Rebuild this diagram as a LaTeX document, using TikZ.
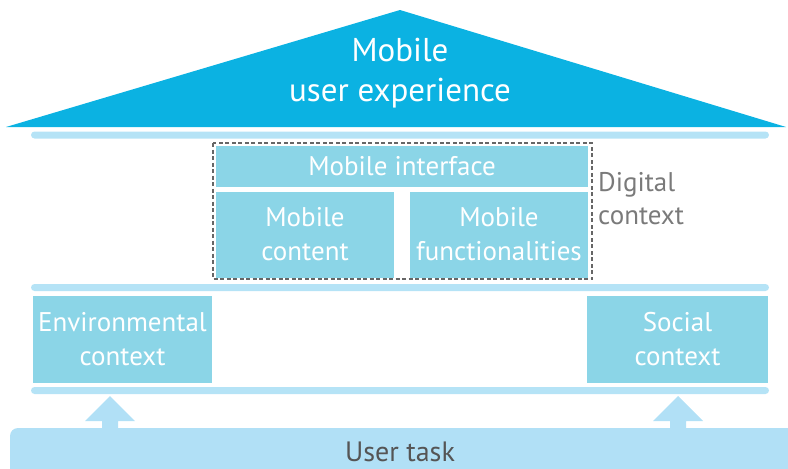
\documentclass[tikz,border=0pt]{standalone}
\usepackage{fontspec}
\setmainfont{PT Sans}
\usetikzlibrary{calc}
\definecolor{roofblue}{HTML}{0BB2E2}
\definecolor{beamblue}{HTML}{B5E3F6}
\definecolor{blockblue}{HTML}{8BD5E7}
\definecolor{baseblue}{HTML}{B1E0F6}
\definecolor{framegray}{HTML}{666666}
\definecolor{labelgray}{HTML}{7A7A7A}
\definecolor{taskgray}{HTML}{555555}
\begin{document}
\begin{tikzpicture}[x=1pt,y=-1pt,
  blockbox/.style={fill=blockblue, inner sep=0pt, text=white, align=center,
    font=\fontsize{27}{34}\selectfont, text depth=2pt},
  beambar/.style={fill=beamblue, rounded corners=3.5pt, inner sep=0pt,
    minimum width=738pt, minimum height=7pt},
  digitalframe/.style={draw=framegray, line width=2.5pt, dash pattern=on 4pt off 2.5pt},
  uparrow/.style={fill=baseblue}]
\useasboundingbox (0,0) rectangle (788,469);

% roof
\fill[roofblue] (6,127) -- (400,10) -- (786,127) -- cycle;
\node[text=white, align=center, font=\fontsize{33}{40}\selectfont] (roof) at (400,73)
  {Mobile\\user experience};

% beams
\node[beambar] (beamtop) at (400,135) {};
\node[beambar] (beammid) at (400,287.5) {};
\node[beambar] (beamlow) at (400,390.5) {};

% digital context
\node[blockbox, minimum width=372pt, minimum height=41pt] (interface) at (402,166.5) {Mobile interface};
\node[blockbox, minimum width=178pt, minimum height=86pt] (content) at (305,235) {Mobile\\content};
\node[blockbox, minimum width=178pt, minimum height=86pt] (functions) at (499,235) {Mobile\\functionalities};
\draw[digitalframe] (213,143) rectangle (592,279);
\node[anchor=west, align=left, text=labelgray, inner sep=0pt,
  font=\fontsize{27}{33}\selectfont] (digital) at (598,199) {Digital\\context};

% environmental and social context
\node[blockbox, minimum width=179pt, minimum height=87pt] (environment) at (122.5,339.5) {Environmental\\context};
\node[blockbox, minimum width=181pt, minimum height=87pt] (social) at (677.5,339.5) {Social\\context};

% user task
\fill[baseblue, rounded corners=8pt] (10,428) rectangle (800,500);
\node[text=taskgray, font=\fontsize{28}{34}\selectfont] (task) at (400,452) {User task};

% arrows from the task up to the lower beam
\coordinate (envfoot) at (110,428);
\coordinate (socfoot) at (678,428);
\foreach \f in {envfoot,socfoot}
  \fill[uparrow] (\f) ++(-8,0) -- ++(0,-7) -- ++(-17,0) -- ++(25,-25)
    -- ++(25,25) -- ++(-17,0) -- ++(0,7) -- cycle;
\end{tikzpicture}
\end{document}
